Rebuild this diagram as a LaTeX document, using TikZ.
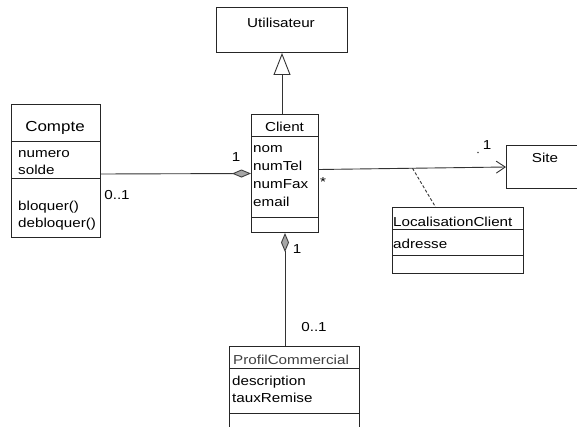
\documentclass[tikz,border=0pt]{standalone}
\usepackage{fontspec}
\setmainfont{Liberation Sans}[FakeStretch=1.17]
\usetikzlibrary{arrows.meta}
\begin{document}
\begin{tikzpicture}[x=1pt,y=-1pt,
  classbox/.style={draw=black!85, line width=1pt, rectangle, inner sep=0pt, anchor=north west},
  sep/.style={draw=black!85, line width=1pt},
  txt/.style={inner sep=0pt, anchor=base west, font=\fontsize{13}{15}\selectfont, text=black},
  ctitle/.style={txt, anchor=base},
  mult/.style={inner sep=0pt, anchor=base, font=\fontsize{13}{15}\selectfont, text=black},
  link/.style={draw=black!80, line width=0.9pt},
  compo/.style={link, {Diamond[fill=gray!70, color=black!75, length=19pt, width=8pt]}-},
  inherit/.style={link, -{Triangle[open, fill=white, length=22pt, width=17pt]}},
  navig/.style={link, -{Straight Barb[length=9pt, width=12pt]}},
  attach/.style={draw=black!80, line width=0.9pt, dash pattern=on 3pt off 2pt}
]
\useasboundingbox[fill=white] (0,0) rectangle (577,427);

% classes
\node[classbox, minimum width=131pt, minimum height=45pt] (utilisateur) at (216,7) {};
\node[ctitle] (utilisateurname) at (281,28) {Utilisateur};

\node[classbox, minimum width=67pt, minimum height=118pt] (client) at (251,114) {};
\draw[sep] (251,137) -- (318,137);
\draw[sep] (251,218) -- (318,218);
\node[ctitle] (clientname) at (284.5,131.5) {Client};
\node[txt] (c1) at (253,153) {nom};
\node[txt] (c2) at (253,171) {numTel};
\node[txt] (c3) at (253,189) {numFax};
\node[txt] (c4) at (253,206.5) {email};

\node[classbox, minimum width=89pt, minimum height=133pt] (compte) at (11,104) {};
\draw[sep] (11,142) -- (100,142);
\draw[sep] (11,179) -- (100,179);
\node[ctitle, font=\fontsize{14.5}{16}\selectfont] (comptename) at (55,132) {Compte};
\node[txt] (k1) at (18,158) {numero};
\node[txt] (k2) at (18,175) {solde};
\node[txt] (k3) at (18,211) {bloquer()};
\node[txt] (k4) at (18,228) {debloquer()};

\node[classbox, minimum width=90pt, minimum height=43pt] (site) at (506,145) {};
\node[ctitle] (sitename) at (545,162.5) {Site};

\node[classbox, minimum width=131pt, minimum height=66pt] (loc) at (392,207) {};
\draw[sep] (392,230) -- (523,230);
\draw[sep] (392,255) -- (523,255);
\node[txt] (locname) at (393,226) {LocalisationClient};
\node[txt] (l1) at (393,248) {adresse};

\node[classbox, minimum width=130pt, minimum height=95pt] (profil) at (229,346) {};
\draw[sep] (229,368) -- (359,368);
\draw[sep] (229,413) -- (359,413);
\node[ctitle, text=black!75] (profilname) at (291,364) {ProfilCommercial};
\node[txt] (p1) at (232,385) {description};
\node[txt] (p2) at (232,402) {tauxRemise};

% relations
\draw[inherit] (client.north -| utilisateur.south) -- (utilisateur.south);

\draw[compo] (client.west) -- ([yshift=-3pt]compte.east);
\node[mult] (m1) at (236,162) {1};
\node[mult] (m2) at (117,200) {0..1};

\draw[navig] ([yshift=4pt]client.east) -- coordinate[pos=0.5] (assocmid) (site.west);
\node[mult] (m3) at (323,187) {*};
\node[mult] (m4) at (487,150) {1};
\fill[black!70] (478,152.5) circle (0.8pt);
\draw[attach] (assocmid) -- ([xshift=-22.5pt]loc.north);

\draw[compo] (client.south) -- (profil.north -| client.south);
\node[mult] (m5) at (297,253) {1};
\node[mult] (m6) at (314,331) {0..1};
\end{tikzpicture}
\end{document}
